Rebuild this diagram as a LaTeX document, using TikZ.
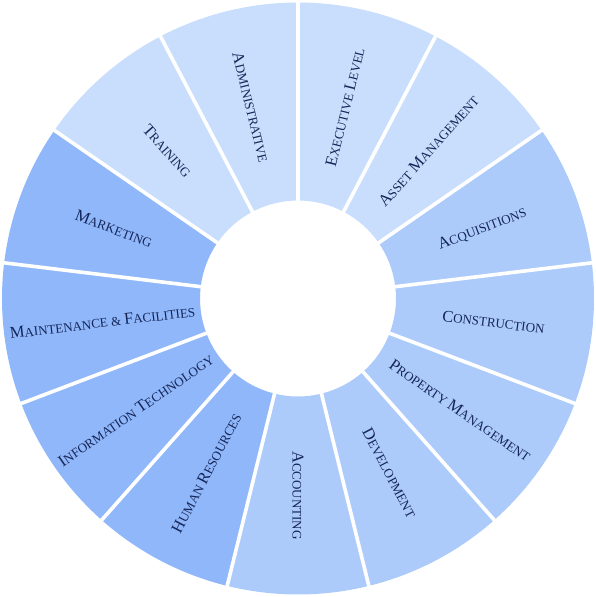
\documentclass[tikz,border=0pt]{standalone}
\usepackage{fontspec}
\setmainfont{Liberation Serif}
\definecolor{segA}{RGB}{201,222,252}
\definecolor{segB}{RGB}{172,203,251}
\definecolor{segC}{RGB}{143,183,250}
\definecolor{labtxt}{RGB}{22,38,88}
\newcommand\Bc[1]{{\fontsize{16.5}{18}\selectfont #1}}
\begin{document}
\begin{tikzpicture}[x=1pt,y=1pt,
  lab/.style={font=\fontsize{13}{15}\selectfont, text=labtxt, inner sep=0pt},
  gap/.style={white, line width=3.6pt}]
\useasboundingbox (-298,-298.5) rectangle (298,298.5);
\pgfmathsetmacro{\st}{360/13}
\foreach \i/\c/\t in {0/segA/\Bc{E}XECUTIVE \Bc{L}EVEL,
                      1/segA/\Bc{A}SSET \Bc{M}ANAGEMENT,
                      2/segB/\Bc{A}CQUISITIONS,
                      3/segB/\Bc{C}ONSTRUCTION,
                      4/segB/\Bc{P}ROPERTY \Bc{M}ANAGEMENT,
                      5/segB/\Bc{D}EVELOPMENT,
                      6/segB/\Bc{A}CCOUNTING,
                      7/segC/\Bc{H}UMAN \Bc{R}ESOURCES,
                      8/segC/\Bc{I}NFORMATION \Bc{T}ECHNOLOGY,
                      9/segC/\Bc{M}AINTENANCE \& \Bc{F}ACILITIES,
                      10/segC/\Bc{M}ARKETING,
                      11/segA/\Bc{T}RAINING,
                      12/segA/\Bc{A}DMINISTRATIVE}{
  \pgfmathsetmacro{\aa}{90-\i*\st}
  \pgfmathsetmacro{\ab}{90-(\i+1)*\st}
  \pgfmathsetmacro{\am}{90-(\i+0.5)*\st}
  \pgfmathsetmacro{\rot}{\am>=-90.01 ? \am : \am+180}
  \fill[\c] (\aa:98) arc[start angle=\aa,end angle=\ab,radius=98] -- (\ab:296) arc[start angle=\ab,end angle=\aa,radius=296] -- cycle;
  \node[lab, rotate=\rot] (seg\i) at (\am:197) {\t};
}
\foreach \i in {0,...,12}{
  \pgfmathsetmacro{\aa}{90-\i*\st}
  \draw[gap] (\aa:94) -- (\aa:300);
}
\end{tikzpicture}
\end{document}
